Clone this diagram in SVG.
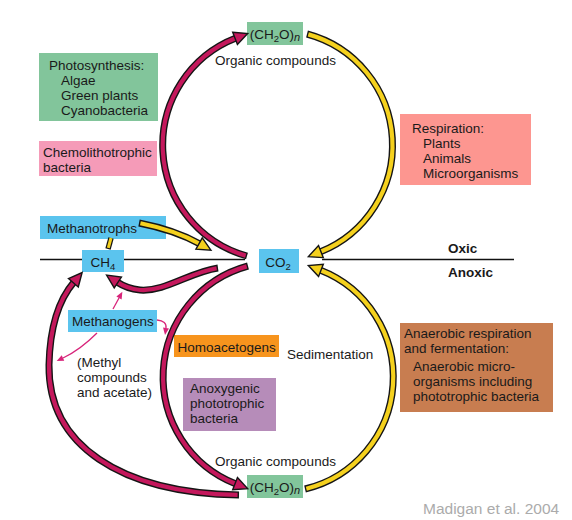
<svg xmlns="http://www.w3.org/2000/svg" width="572" height="520" viewBox="0 0 572 520">
<style>
text { font-family: "Liberation Sans", Arial, Helvetica, sans-serif; font-size: 13.5px; fill: #1a1a1a; }
.b { font-weight: bold; }
.sub { font-size: 9.5px; }
.it { font-style: italic; font-size: 11px; }
.box { stroke: none; }
.green { fill: #82c59b; }
.blue { fill: #5bc4ee; }
.pink { fill: #f59bb8; }
.salmon { fill: #fd9690; }
.orange { fill: #f7941d; }
.purple { fill: #b68cb9; }
.brown { fill: #c87d50; }
.divider { stroke: #111; stroke-width: 1.6; fill: none; }
.ol { fill: none; stroke: #151515; stroke-width: 7; }
.olt { fill: none; stroke: #151515; stroke-width: 5.5; }
.mg { fill: none; stroke: #c4185c; stroke-width: 4.2; stroke-dasharray: 0 1.4 3000; marker-end: url(#ahM); }
.yl { fill: none; stroke: #f5d11e; stroke-width: 4.2; stroke-dasharray: 0 1.4 3000; marker-end: url(#ahY); }
.ylb { fill: none; stroke: #f5d11e; stroke-width: 3; stroke-dasharray: 0 1.2 100 ; }
.thin { fill: none; stroke: #d8247a; stroke-width: 1.3; marker-end: url(#ahT); }
.wm { fill: #ababab; font-size: 15.5px; }
</style>
<defs>
<marker id="ahM" markerUnits="userSpaceOnUse" markerWidth="20" markerHeight="20" refX="1" refY="0" orient="auto" overflow="visible">
<path d="M0,-6.5 L13.5,0 L0,6.5 Z" fill="#c4185c" stroke="#151515" stroke-width="1.4"/>
</marker>
<marker id="ahY" markerUnits="userSpaceOnUse" markerWidth="20" markerHeight="20" refX="1" refY="0" orient="auto" overflow="visible">
<path d="M0,-6.5 L13.5,0 L0,6.5 Z" fill="#f5d11e" stroke="#151515" stroke-width="1.4"/>
</marker>
<marker id="ahT" markerUnits="userSpaceOnUse" markerWidth="10" markerHeight="10" refX="0" refY="0" orient="auto" overflow="visible">
<path d="M0,-3 L7,0 L0,3 Z" fill="#d8247a"/>
</marker>
</defs>

<g id="oxic-anoxic-boundary">
<line class="divider" x1="40" y1="259.5" x2="245" y2="259.5"/>
<line class="divider" x1="322" y1="259.5" x2="514" y2="259.5"/>
<text class="b" x="448" y="253">Oxic</text>
<text class="b" x="448" y="277">Anoxic</text>
</g>

<g id="ch2o-top">
<rect class="box green" x="247" y="22" width="56" height="23"/>
<text x="275" y="38.5" text-anchor="middle">(CH<tspan class="sub" dy="3">2</tspan><tspan dy="-3">O)</tspan><tspan class="it" dy="2">n</tspan></text>
<text x="275.5" y="65" text-anchor="middle">Organic compounds</text>
</g>

<g id="photosynthesis">
<rect class="box green" x="39" y="53" width="119" height="68"/>
<text x="49" y="70">Photosynthesis:</text>
<text x="61" y="85">Algae</text>
<text x="61" y="100">Green plants</text>
<text x="61" y="115">Cyanobacteria</text>
</g>

<g id="chemolithotrophic">
<rect class="box pink" x="39" y="141" width="118" height="35"/>
<text x="43" y="157">Chemolithotrophic</text>
<text x="43" y="172">bacteria</text>
</g>

<g id="respiration">
<rect class="box salmon" x="400" y="114" width="131" height="71"/>
<text x="412" y="133">Respiration:</text>
<text x="423" y="148">Plants</text>
<text x="423" y="163">Animals</text>
<text x="423" y="178">Microorganisms</text>
</g>

<g id="methanotrophs">
<rect class="box blue" x="40" y="216" width="126" height="23"/>
<text x="47" y="233">Methanotrophs</text>
</g>

<g id="ch4">
<rect class="box blue" x="82" y="250" width="42" height="22"/>
<text x="103" y="266.5" text-anchor="middle">CH<tspan class="sub" dy="3">4</tspan></text>
</g>

<g id="co2">
<rect class="box blue" x="259" y="249" width="40" height="24"/>
<text x="278" y="266.5" text-anchor="middle">CO<tspan class="sub" dy="3">2</tspan></text>
</g>

<g id="methanogens">
<rect class="box blue" x="68" y="310" width="89" height="22"/>
<text x="72" y="326">Methanogens</text>
</g>

<g id="methyl-compounds">
<text x="77" y="367">(Methyl</text>
<text x="77" y="382">compounds</text>
<text x="77" y="397">and acetate)</text>
</g>

<g id="homoacetogens">
<rect class="box orange" x="174" y="335" width="105" height="22"/>
<text x="177.5" y="351.5">Homoacetogens</text>
</g>

<g id="sedimentation">
<text x="287" y="359">Sedimentation</text>
</g>

<g id="anoxygenic">
<rect class="box purple" x="183" y="378" width="93" height="53"/>
<text x="190" y="393">Anoxygenic</text>
<text x="190" y="408">phototrophic</text>
<text x="190" y="423">bacteria</text>
</g>

<g id="anaerobic">
<rect class="box brown" x="400" y="323" width="153" height="89"/>
<text x="404" y="338">Anaerobic respiration</text>
<text x="404" y="353">and fermentation:</text>
<text x="413" y="371">Anaerobic micro-</text>
<text x="413" y="386">organisms including</text>
<text x="413" y="401">phototrophic bacteria</text>
</g>

<g id="ch2o-bottom">
<text x="275.5" y="466" text-anchor="middle">Organic compounds</text>
<rect class="box green" x="247" y="475" width="56" height="23"/>
<text x="275" y="491.5" text-anchor="middle">(CH<tspan class="sub" dy="3">2</tspan><tspan dy="-3">O)</tspan><tspan class="it" dy="2">n</tspan></text>
</g>

<g id="connectors">
<path class="ol" d="M247,256 A115,115 0 0 1 236,38"/>
<path class="mg" d="M247,256 A115,115 0 0 1 236,38"/>
<path class="ol" d="M307,34 A115,115 0 0 1 320,252"/>
<path class="yl" d="M307,34 A115,115 0 0 1 320,252"/>
<path class="ol" d="M305,489 A115,115 0 0 0 320,270"/>
<path class="yl" d="M305,489 A115,115 0 0 0 320,270"/>
<path class="ol" d="M248,266 A115,115 0 0 0 236,484"/>
<path class="mg" d="M248,266 A115,115 0 0 0 236,484"/>
<path class="ol" d="M239,495 C120,493 48,445 49,365 C50,320 62,296 74,282"/>
<path class="mg" d="M239,495 C120,493 48,445 49,365 C50,320 62,296 74,282"/>
<path class="ol" d="M218,268 C190,272 165,292 140,290 C130,289 123,286 117,282"/>
<path class="mg" d="M218,268 C190,272 165,292 140,290 C130,289 123,286 117,282"/>
<path class="olt" d="M108,249 L111,238"/>
<path class="ylb" d="M108,249 L111,238"/>
<path class="ol" d="M139,223 Q175,230 200,244"/>
<path class="yl" d="M139,223 Q175,230 200,244"/>
<path class="thin" d="M113,309 L119,298"/>
<path class="thin" d="M97,333 Q80,350 63,358"/>
<path class="thin" d="M157,320 Q167,321 166,328"/>
</g>

<text class="wm" x="423" y="514">Madigan et al. 2004</text>
</svg>
